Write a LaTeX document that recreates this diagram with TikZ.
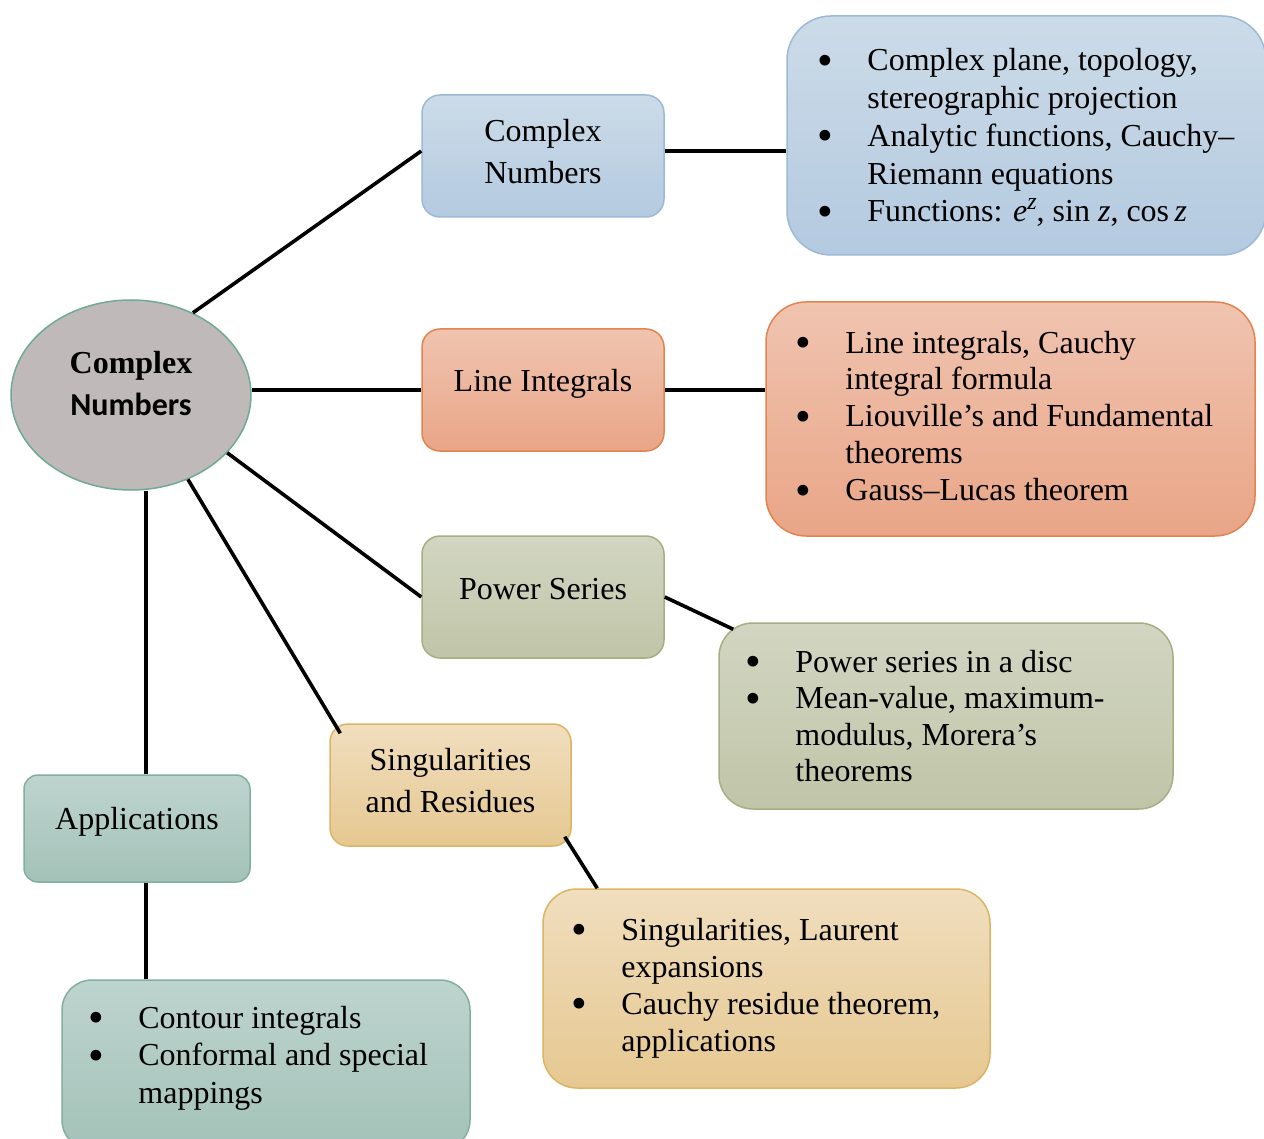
\documentclass[tikz,border=0pt]{standalone}
\usepackage{fontspec}
\setmainfont{Liberation Serif}
\newfontfamily\calfont{Carlito}
\usetikzlibrary{shapes.geometric}
\newcommand\bul{\makebox[21pt][l]{\makebox[0pt]{\raisebox{-2.3pt}{\scalebox{1.4}{\textbullet}}}}}
\newcommand\supz{\raisebox{0.38em}{\fontsize{12}{12}\selectfont\textit{z}}}
\definecolor{bT}{HTML}{CCDBE8}\definecolor{bB}{HTML}{B4CAE0}\definecolor{bD}{HTML}{9DB9D8}
\definecolor{oT}{HTML}{F0C4B0}\definecolor{oB}{HTML}{E9A587}\definecolor{oD}{HTML}{E2844F}
\definecolor{gT}{HTML}{D2D6C2}\definecolor{gB}{HTML}{C0C5A8}\definecolor{gD}{HTML}{A5AF82}
\definecolor{yT}{HTML}{F0DEBE}\definecolor{yB}{HTML}{E6C891}\definecolor{yD}{HTML}{DCB464}
\definecolor{tT}{HTML}{BED4CE}\definecolor{tB}{HTML}{A3C2B8}\definecolor{tD}{HTML}{82AFA0}
\definecolor{rF}{HTML}{C0B9B9}\definecolor{rD}{HTML}{6EAA96}
\tikzset{
  conn/.style={line width=1.8pt, black},
  sbox/.style={rectangle, rounded corners=9pt, minimum width=121pt, minimum height=61pt, line width=0.75pt, inner sep=0pt},
  dbox/.style={rectangle, line width=0.75pt, inner sep=0pt},
  lbl/.style={anchor=base, inner sep=0pt, font=\fontsize{16}{21}\selectfont},
  lst/.style={anchor=base west, inner sep=0pt},
  bshade/.style={top color=bT, bottom color=bB, draw=bD},
  oshade/.style={top color=oT, bottom color=oB, draw=oD},
  gshade/.style={top color=gT, bottom color=gB, draw=gD},
  yshade/.style={top color=yT, bottom color=yB, draw=yD},
  tshade/.style={top color=tT, bottom color=tB, draw=tD}
}
\begin{document}
\begin{tikzpicture}[x=0.5pt,y=-0.5pt]
\useasboundingbox[fill=white] (0,0) rectangle (1264,1139);
% nodes
\node[ellipse, minimum width=120pt, minimum height=95pt, inner sep=0pt, fill=rF, draw=rD, line width=0.75pt] (root) at (131,395) {};
\node[sbox, bshade] (cn) at (543,156) {};
\node[sbox, oshade] (li) at (543,390) {};
\node[sbox, gshade] (ps) at (543,597) {};
\node[sbox, yshade, minimum width=120.5pt] (sing) at (450.5,785) {};
\node[sbox, tshade, minimum width=113pt, minimum height=53.5pt, rounded corners=7pt] (apps) at (137,828.5) {};
\node[dbox, bshade, minimum width=239.5pt, minimum height=119.5pt, rounded corners=22pt] (cnd) at (1026.5,135.5) {};
\node[dbox, oshade, minimum width=244.5pt, minimum height=117pt, rounded corners=20pt] (lid) at (1010.5,419) {};
\node[dbox, gshade, minimum width=227pt, minimum height=93pt, rounded corners=17pt] (psd) at (946,716) {};
\node[dbox, yshade, minimum width=223.5pt, minimum height=99.5pt, rounded corners=17pt] (sd) at (766.5,988.5) {};
\node[dbox, tshade, minimum width=204pt, minimum height=85pt, rounded corners=15pt] (apd) at (266,1065) {};
% connectors
\draw[conn] (root.53.5) -- ([yshift=2.5pt]cn.west);
\draw[conn] (li.west) -- (li.west -| root.east);
\draw[conn] (root.-31.6) -- (ps.west);
\draw[conn] (root.-56.6) -- ([shift={(5.5pt,-5pt)}]sing.north west);
\draw[conn] ([xshift=7.5pt]root.south) -- ([xshift=7.5pt]root.south |- apps.north);
\draw[conn] ([xshift=4.5pt]apps.south) -- ([xshift=4.5pt]apps.south |- apd.north);
\draw[conn] ([yshift=2.5pt]cn.east) -- ([yshift=2.5pt]cn.east -| cnd.west);
\draw[conn] (li.east) -- (li.east -| lid.west);
\draw[conn] (ps.east) -- ([shift={(7.5pt,-3.5pt)}]psd.north west);
\draw[conn] ([shift={(-3.5pt,5pt)}]sing.south east) -- ([xshift=27.5pt]sd.north west);
% labels
\node[lbl] (roott) at (131,373) {\begin{tabular}[t]{@{}c@{}}\bfseries Complex\\{\calfont\bfseries Numbers}\end{tabular}};
\node[lbl] (cnt) at (543,142) {\begin{tabular}[t]{@{}c@{}}Complex\\Numbers\end{tabular}};
\node[lbl] (lit) at (543,392) {Line Integrals};
\node[lbl] (pst) at (543,599) {Power Series};
\node[lbl] (singt) at (450.5,770.5) {\begin{tabular}[t]{@{}c@{}}Singularities\\and Residues\end{tabular}};
\node[lbl] (appst) at (137,829.5) {Applications};
% lists
\node[lst, font=\fontsize{16}{18.85}\selectfont] (cndt) at (825,71) {\begin{tabular}[t]{@{}l@{}l@{}}\bul&Complex plane, topology,\\&stereographic projection\\\bul&Analytic functions, Cauchy–\\&Riemann equations\\\bul&Functions: \textit{e}\supz, sin \textit{z}, cos\,\textit{z}\end{tabular}};
\node[lst, font=\fontsize{16}{18.45}\selectfont] (lidt) at (803,353) {\begin{tabular}[t]{@{}l@{}l@{}}\bul&Line integrals, Cauchy\\&integral formula\\\bul&Liouville’s and Fundamental\\&theorems\\\bul&Gauss–Lucas theorem\end{tabular}};
\node[lst, font=\fontsize{16}{18.3}\selectfont] (psdt) at (753,672) {\begin{tabular}[t]{@{}l@{}l@{}}\bul&Power series in a disc\\\bul&Mean-value, maximum-\\&modulus, Morera’s\\&theorems\end{tabular}};
\node[lst, font=\fontsize{16}{18.5}\selectfont] (sdt) at (579,940) {\begin{tabular}[t]{@{}l@{}l@{}}\bul&Singularities, Laurent\\&expansions\\\bul&Cauchy residue theorem,\\&applications\end{tabular}};
\node[lst, font=\fontsize{16}{18.75}\selectfont] (apdt) at (96,1028) {\begin{tabular}[t]{@{}l@{}l@{}}\bul&Contour integrals\\\bul&Conformal and special\\&mappings\end{tabular}};
\end{tikzpicture}
\end{document}
